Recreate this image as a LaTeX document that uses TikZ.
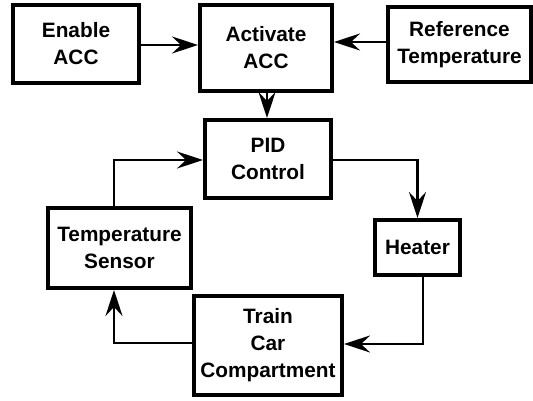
\documentclass[tikz,border=0pt]{standalone}
\usepackage{fontspec}
\setmainfont{Liberation Sans}
\usepackage{tikz}
\usetikzlibrary{positioning,calc,arrows.meta}

\begin{document}
\begin{tikzpicture}[
  x=1pt, y=-1pt,
  blockbox/.style={draw=black, line width=4pt, align=center, inner sep=0pt,
    font=\fontsize{20.8}{27}\selectfont\bfseries},
  flowarrow/.style={draw=black, line width=2.7pt,
    -{Stealth[length=26pt,width=17pt,inset=9pt]}},
]
\useasboundingbox (0,0) rectangle (533,401);
% blocks
\node[blockbox, minimum width=126pt, minimum height=78pt] (enable) at (76,44) {Enable\\ACC};
\node[blockbox, minimum width=132pt, minimum height=86pt] (activate) at (266,48) {Activate\\ACC};
\node[blockbox, minimum width=143pt, minimum height=75pt] (reftemp) at (459.5,44.5) {Reference\\Temperature};
\node[blockbox, minimum width=126pt, minimum height=78pt] (pid) at (268,159) {PID\\Control};
\node[blockbox, minimum width=85pt, minimum height=55pt] (heater) at (417.5,247.5) {Heater};
\node[blockbox, minimum width=143pt, minimum height=80pt] (sensor) at (119.5,248) {Temperature\\Sensor};
\node[blockbox, minimum width=148pt, minimum height=99pt] (train) at (268,345.5) {Train\\Car\\Compartment};
% connectors
\draw[flowarrow] ([yshift=-1pt]enable.east) -- ([yshift=-1pt]enable.east -| activate.west);
\draw[flowarrow] ([yshift=2.5pt]reftemp.west) -- ([yshift=2.5pt]reftemp.west -| activate.east);
\draw[flowarrow] ([xshift=1pt]activate.south) -- ([xshift=1pt]activate.south |- pid.north);
\draw[flowarrow] ([xshift=-5.5pt]sensor.north) |- ([yshift=-1pt]pid.west);
\draw[flowarrow] ([yshift=-1pt]pid.east) -| (heater.north);
\draw[flowarrow] ([xshift=5.5pt]heater.south) |- ([yshift=1.5pt]train.east);
\draw[flowarrow] ([yshift=2.5pt]train.west) -| ([xshift=-5.5pt]sensor.south);
\end{tikzpicture}
\end{document}
